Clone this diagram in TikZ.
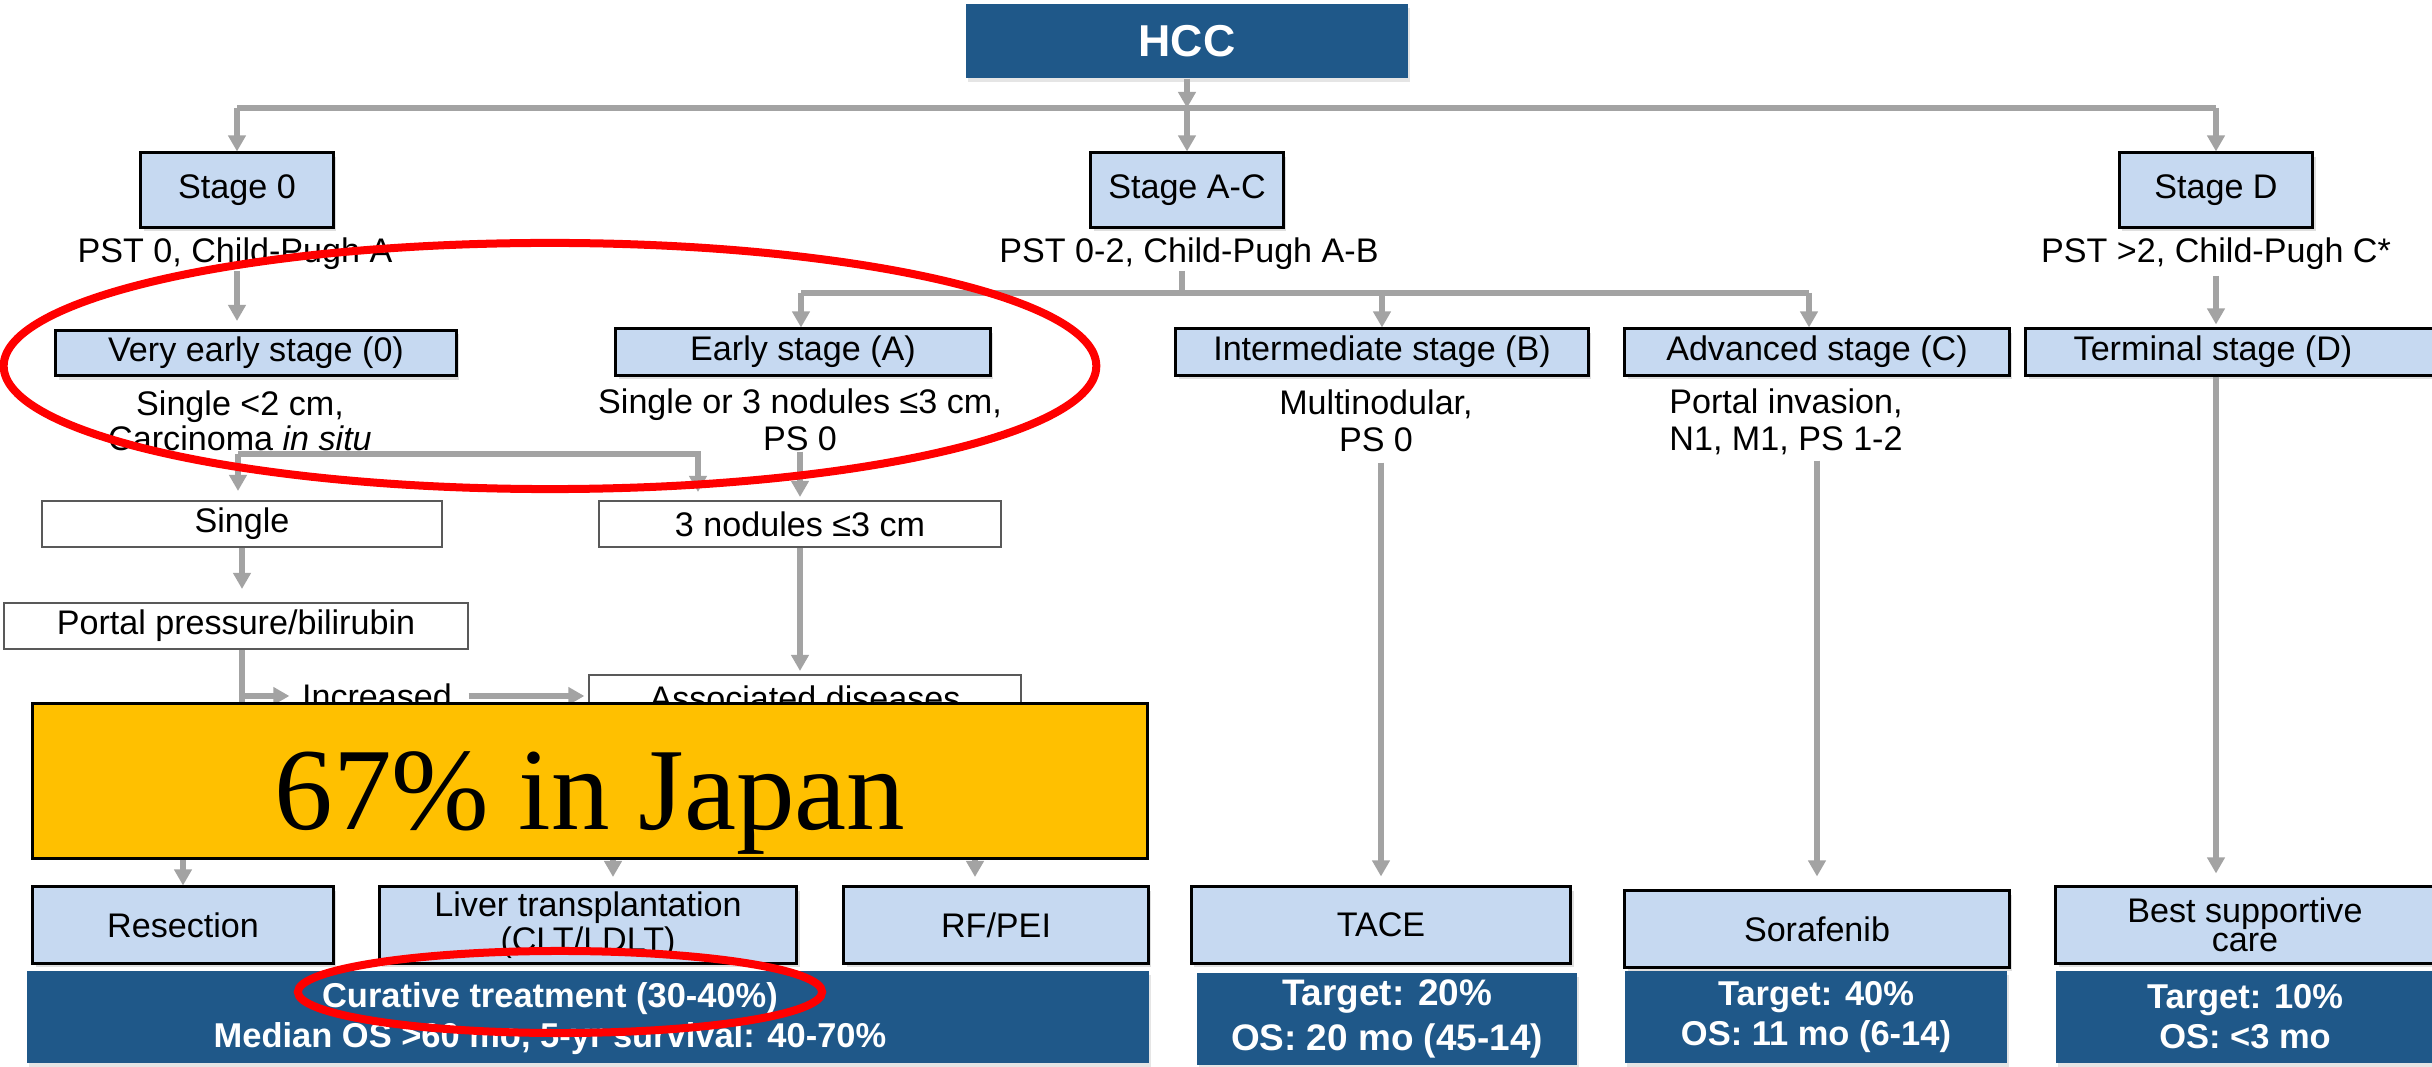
\documentclass[tikz,border=0pt]{standalone}
\usepackage{fontspec}
\setmainfont{Liberation Sans}
\newfontfamily\jpfont{Liberation Serif}
\usetikzlibrary{arrows.meta,shadows}
\definecolor{hccblue}{RGB}{31,88,137}
\definecolor{stageblue}{RGB}{198,217,241}
\definecolor{conngray}{RGB}{163,163,163}
\definecolor{jpyellow}{RGB}{255,192,0}
\begin{document}
\begin{tikzpicture}[x=0.01cm, y=-0.01cm,
    every node/.style={font=\fontsize{9.7}{10.4}\selectfont, inner sep=0pt, align=center},
    stagebox/.style={draw=black, line width=0.03cm, fill=stageblue, drop shadow={shadow xshift=0.03cm, shadow yshift=-0.04cm, opacity=0.25}},
    plainbox/.style={draw=black!65, line width=0.02cm, fill=white},
    darktext/.style={text=white, font=\bfseries\fontsize{9.8}{11.4}\selectfont},
    darkbox/.style={darktext, fill=hccblue, drop shadow={shadow xshift=0.02cm, shadow yshift=-0.04cm, opacity=0.2}},
    conn/.style={draw=conngray, line width=0.052cm},
    arr/.style={conn, -{Triangle[width=0.17cm, length=0.16cm]}}]
    \useasboundingbox (0,0) rectangle (2432,1067);
    \fill[white] (0,0) rectangle (2432,1067);

    \node[darkbox, minimum width=4.41cm, minimum height=0.74cm, font=\bfseries\fontsize{12.7}{14}\selectfont] (hcc) at (1187,41) {HCC};
    \node[stagebox, minimum width=1.92cm, minimum height=0.74cm] (s0) at (237,190) {Stage 0};
    \node[stagebox, minimum width=1.92cm, minimum height=0.74cm] (sac) at (1187,190) {Stage A-C};
    \node[stagebox, minimum width=1.93cm, minimum height=0.74cm] (sd) at (2216,190) {Stage D};
    \node[anchor=base] (pst0) at (235,263) {PST 0, Child-Pugh A};
    \node[anchor=base] (pstac) at (1189,263) {PST 0-2, Child-Pugh A-B};
    \node[anchor=base] (pstd) at (2216,263) {PST >2, Child-Pugh C*};

    \node[stagebox, minimum width=4cm, minimum height=0.45cm] (vearly) at (256,353) {Very early stage (0)};
    \node[stagebox, minimum width=3.74cm, minimum height=0.46cm] (early) at (803,352) {Early stage (A)};
    \node[stagebox, minimum width=4.12cm, minimum height=0.46cm] (inter) at (1382,352) {Intermediate stage (B)};
    \node[stagebox, minimum width=3.84cm, minimum height=0.46cm] (adv) at (1817,352) {Advanced stage (C)};
    \node[stagebox, minimum width=4.08cm, minimum height=0.46cm] (term) at (2230,352) {\hspace*{-0.34cm}Terminal stage (D)};
    \node[font=\fontsize{9.7}{7.7}\selectfont] (vetext) at (240,421) {Single <2 cm,\\Carcinoma \textit{in situ}};
    \node (etext) at (800,420) {Single or 3 nodules ≤3 cm,\\PS 0};
    \node (btext) at (1376,421) {Multinodular,\\PS 0};
    \node (ctext) at (1786,422) {Portal invasion,\\N1, M1, PS 1-2};

    \node[plainbox, minimum width=3.99cm, minimum height=0.46cm] (single) at (242,524) {Single};
    \node[plainbox, minimum width=4.01cm, minimum height=0.46cm] (nod3) at (800,524) {3 nodules ≤3 cm};
    \node[plainbox, minimum width=4.64cm, minimum height=0.46cm] (portal) at (236,626) {Portal pressure/bilirubin};
    \node[plainbox, minimum width=4.31cm, minimum height=0.46cm] (assoc) at (805,698) {Associated diseases};
    \node (incr) at (377,696) {Increased};
    \coordinate (pdown) at (242,740);

    \node[stagebox, minimum width=3cm, minimum height=0.76cm] (res) at (183,925) {Resection};
    \node[stagebox, minimum width=4.17cm, minimum height=0.76cm, font=\fontsize{9.7}{8.5}\selectfont] (liver) at (588,925) {Liver transplantation\\(CLT/LDLT)};
    \node[stagebox, minimum width=3.04cm, minimum height=0.76cm] (rfpei) at (996,925) {RF/PEI};
    \node[stagebox, minimum width=3.79cm, minimum height=0.76cm] (tace) at (1381,925) {TACE};
    \node[stagebox, minimum width=3.84cm, minimum height=0.76cm] (sora) at (1817,929) {Sorafenib};
    \node[stagebox, minimum width=3.78cm, minimum height=0.76cm, font=\fontsize{9.7}{8.2}\selectfont] (bsc) at (2245,925) {Best supportive\\care};

    \node[darkbox, minimum width=11.22cm, minimum height=0.91cm] (curbox) at (588,1017) {};
    \node[darktext] (cur) at (550,1019) {Curative treatment (30-40\%)\\Median OS >60 mo, 5-yr survival: 40-70\%};
    \node[darkbox, minimum width=3.79cm, minimum height=0.91cm, font=\bfseries\fontsize{10.5}{13}\selectfont] (tgtb) at (1387,1019) {Target: 20\%\\OS: 20 mo (45-14)};
    \node[darkbox, minimum width=3.82cm, minimum height=0.91cm] (tgtc) at (1816,1017) {Target: 40\%\\OS: 11 mo (6-14)};
    \node[darkbox, minimum width=3.78cm, minimum height=0.91cm] (tgtd) at (2245,1017) {Target: 10\%\\OS: <3 mo};

    \coordinate (busL) at (237,108);
    \coordinate (busR) at (2216,108);
    \draw[arr] (hcc) -- (hcc |- busL);
    \draw[conn] (busL) -- (busR);
    \draw[arr] (busL) -- (s0);
    \draw[arr] (hcc |- busL) -- (sac);
    \draw[arr] (busR) -- (sd);

    \coordinate (b2l) at (801,293);
    \coordinate (b2r) at (1809,293);
    \draw[arr, shorten >=0.08cm] (pst0.south -| s0) -- (vearly.north -| s0);
    \draw[conn] (pstac.south -| 1182,0) -- (b2l -| 1182,0);
    \draw[conn] (b2l) -- (b2r);
    \draw[arr] (b2l) -- (b2l |- early.north);
    \draw[arr] (inter.north |- b2l) -- (inter);
    \draw[arr] (b2r) -- (b2r |- adv.north);
    \draw[arr, shorten <=0.05cm, shorten >=0.03cm] (pstd.south -| sd) -- (term.north -| sd);

    \coordinate (b3l) at (238,454);
    \coordinate (b3r) at (698,454);
    \draw[arr, shorten >=0.09cm] (b3l) -- (b3l |- single.north);
    \draw[arr, shorten >=0.08cm] (b3l) -| (b3r |- nod3.north);
    \draw[arr, shorten >=0.03cm] (etext) -- (nod3);
    \draw[arr, shorten >=0.13cm] (single) -- (single |- portal.north);
    \draw[arr, shorten >=0.12cm] (portal.south -| single) |- (incr);
    \draw[conn] (portal.south -| single) -- (pdown);
    \draw[arr, shorten <=0.16cm, shorten >=0.04cm] (incr.east) -- (incr.east -| assoc.west);
    \draw[arr, shorten >=0.03cm] (nod3) -- (nod3 |- assoc.north);
    \draw[arr, shorten <=0.1cm, shorten >=0.09cm] (tace.north |- btext.south) -- (tace);
    \draw[arr, shorten <=0.05cm, shorten >=0.13cm] (sora.north |- ctext.south) -- (sora);
    \draw[arr, shorten >=0.12cm] (term.south -| sd) -- (bsc.north -| sd);

    \node[draw=black, line width=0.03cm, fill=jpyellow, minimum width=11.15cm, minimum height=1.55cm, text height=0.97cm, text depth=0pt, font=\jpfont\fontsize{33.3}{40}\selectfont] (jp) at (590,781) {67\% in Japan};
    \coordinate (ltip) at (613,877);
    \coordinate (rtip) at (975,877);
    \draw[arr] (jp.south -| res) -- (res);
    \draw[arr] (ltip |- jp.south) -- (ltip);
    \draw[arr] (rtip |- jp.south) -- (rtip);

    \draw[red, line width=0.08cm] (550,366) ellipse [x radius=5.46cm, y radius=1.23cm];
    \draw[red, line width=0.08cm] (560,992) ellipse [x radius=2.62cm, y radius=0.41cm];
\end{tikzpicture}
\end{document}
